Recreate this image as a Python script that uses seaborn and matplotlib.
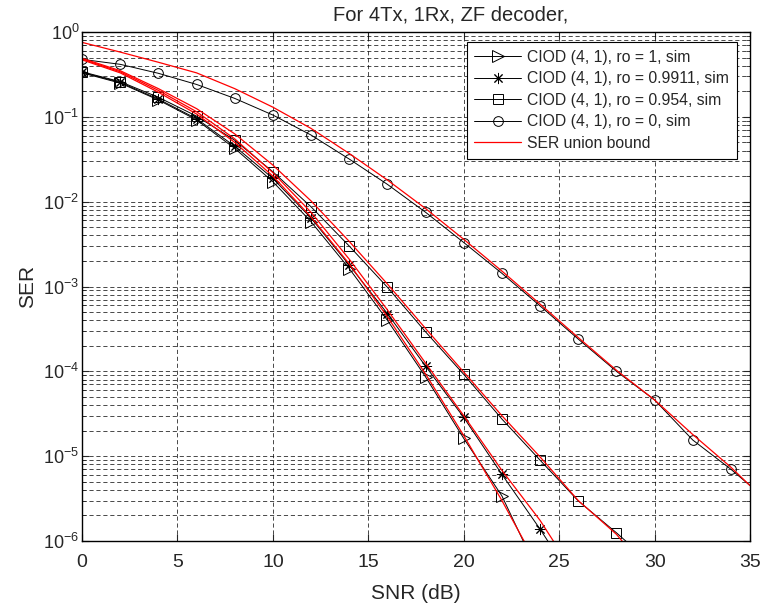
import matplotlib
matplotlib.use("Agg")
import matplotlib.pyplot as plt
import seaborn as sns
import pandas as pd

# simulated SER, markers every 2 dB
snr_ro1 = [0, 2, 4, 6, 8, 10, 12, 14, 16, 18, 20, 22, 24]
ser_ro1 = [0.33, 0.25, 0.158, 0.092, 0.0425, 0.0172, 0.0058, 0.00163,
           4.0e-4, 8.6e-5, 1.62e-5, 3.4e-6, 3.8e-7]

snr_ro09911 = [0, 2, 4, 6, 8, 10, 12, 14, 16, 18, 20, 22, 24, 26]
ser_ro09911 = [0.335, 0.255, 0.162, 0.095, 0.045, 0.0188, 0.0064, 0.00179,
               4.8e-4, 1.15e-4, 2.86e-5, 6.1e-6, 1.38e-6, 2.8e-7]

snr_ro0954 = [0, 2, 4, 6, 8, 10, 12, 14, 16, 18, 20, 22, 24, 26, 28, 30]
ser_ro0954 = [0.34, 0.26, 0.17, 0.102, 0.053, 0.0225, 0.0087, 0.0030,
              9.8e-4, 2.92e-4, 9.2e-5, 2.74e-5, 8.97e-6, 2.97e-6, 1.25e-6, 5.0e-7]

snr_ro0 = [0, 2, 4, 6, 8, 10, 12, 14, 16, 18, 20, 22, 24, 26, 28, 30, 32, 34, 36]
ser_ro0 = [0.476, 0.416, 0.326, 0.241, 0.165, 0.105, 0.061, 0.0318, 0.016,
           0.0075, 0.0033, 1.43e-3, 5.9e-4, 2.4e-4, 1.0e-4, 4.6e-5, 1.55e-5,
           7.0e-6, 2.9e-6]

# union bounds
ub_snr_ro1 = [0, 2, 4, 6, 8, 10, 12, 14, 16, 18, 20, 22, 24]
ub_ro1 = [0.47, 0.33, 0.195, 0.108, 0.05, 0.02, 0.0066, 0.00185, 4.4e-4,
          9.3e-5, 1.75e-5, 3.0e-6, 4.5e-7]

ub_snr_ro09911 = [0, 2, 4, 6, 8, 10, 12, 14, 16, 18, 20, 22, 24, 26]
ub_ro09911 = [0.48, 0.34, 0.205, 0.115, 0.055, 0.022, 0.0075, 0.0021, 5.3e-4,
              1.25e-4, 3.0e-5, 6.8e-6, 1.75e-6, 3.5e-7]

ub_snr_ro0954 = [0, 2, 4, 6, 8, 10, 12, 14, 16, 18, 20, 22, 24, 26, 28, 30]
ub_ro0954 = [0.49, 0.35, 0.215, 0.125, 0.063, 0.027, 0.0102, 0.0034, 1.07e-3,
             3.2e-4, 9.8e-5, 3.0e-5, 9.8e-6, 3.0e-6, 1.2e-6, 3.5e-7]

ub_snr_ro0 = [0, 2, 4, 6, 8, 10, 12, 14, 16, 18, 20, 22, 24, 26, 28, 30, 32, 34, 35]
ub_ro0 = [0.755, 0.58, 0.44, 0.33, 0.215, 0.13, 0.073, 0.037, 0.018, 0.0083,
          0.0036, 1.52e-3, 6.2e-4, 2.5e-4, 1.03e-4, 4.6e-5, 1.8e-5, 7.4e-6, 4.5e-6]

sns.set_style("ticks")
plt.rcParams["font.family"] = ["Liberation Sans", "DejaVu Sans"]

fig = plt.figure(figsize=(7.63, 6.12), dpi=100)
ax = fig.add_axes([0.1075, 0.116, 0.8755, 0.8317])

# asterisk marker = (8 spokes, style 2)
sims = [
    (snr_ro1, ser_ro1, ">", 8, "CIOD (4, 1), ro = 1, sim"),
    (snr_ro09911, ser_ro09911, (8, 2, 0), 8, "CIOD (4, 1), ro = 0.9911, sim"),
    (snr_ro0954, ser_ro0954, "s", 7, "CIOD (4, 1), ro = 0.954, sim"),
    (snr_ro0, ser_ro0, "o", 7, "CIOD (4, 1), ro = 0, sim"),
]
for x, y, m, ms, lab in sims:
    sns.lineplot(x=x, y=y, ax=ax, color="k", lw=0.7, marker=m, markersize=ms,
                 markerfacecolor="none", markeredgecolor="k", markeredgewidth=0.7,
                 sort=False, errorbar=None, label=lab)

bounds = [(ub_snr_ro1, ub_ro1), (ub_snr_ro09911, ub_ro09911),
          (ub_snr_ro0954, ub_ro0954), (ub_snr_ro0, ub_ro0)]
for i, (x, y) in enumerate(bounds):
    sns.lineplot(x=x, y=y, ax=ax, color="red", lw=0.9, sort=False, errorbar=None,
                 label="SER union bound" if i == 0 else "_nolegend_")

ax.set_yscale("log")
ax.set_xlim(0, 35)
ax.set_ylim(1e-6, 1)
ax.set_xticks(range(0, 36, 5))
ax.set_yticks([1e-6, 1e-5, 1e-4, 1e-3, 1e-2, 1e-1, 1])

ax.grid(True, which="major", color="k", lw=0.5, ls=(0, (6, 4)))
ax.grid(True, which="minor", axis="y", color="k", lw=0.5, ls=(0, (6, 4)))
ax.tick_params(which="both", direction="in", top=True, right=True)
ax.tick_params(axis="x", labelsize=14, pad=9)
ax.tick_params(axis="y", labelsize=13, pad=2)
ax.tick_params(which="major", length=5)
ax.tick_params(which="minor", length=3)
for s in ax.spines.values():
    s.set_linewidth(1.0)
    s.set_color("k")

ax.set_xlabel("SNR (dB)", fontsize=15, labelpad=10)
ax.set_ylabel("SER", fontsize=15, labelpad=4)
ax.set_title("For 4Tx, 1Rx, ZF decoder,", fontsize=14.5, x=0.552, pad=8)

leg = ax.legend(loc="upper right", bbox_to_anchor=(0.98, 0.981), borderaxespad=0,
                fontsize=11.3, frameon=True, fancybox=False, edgecolor="k",
                framealpha=1, handlelength=3.0, handletextpad=0.35,
                labelspacing=0.42, borderpad=0.5)
leg.get_frame().set_linewidth(0.8)

fig.savefig("out.png", dpi=100)
